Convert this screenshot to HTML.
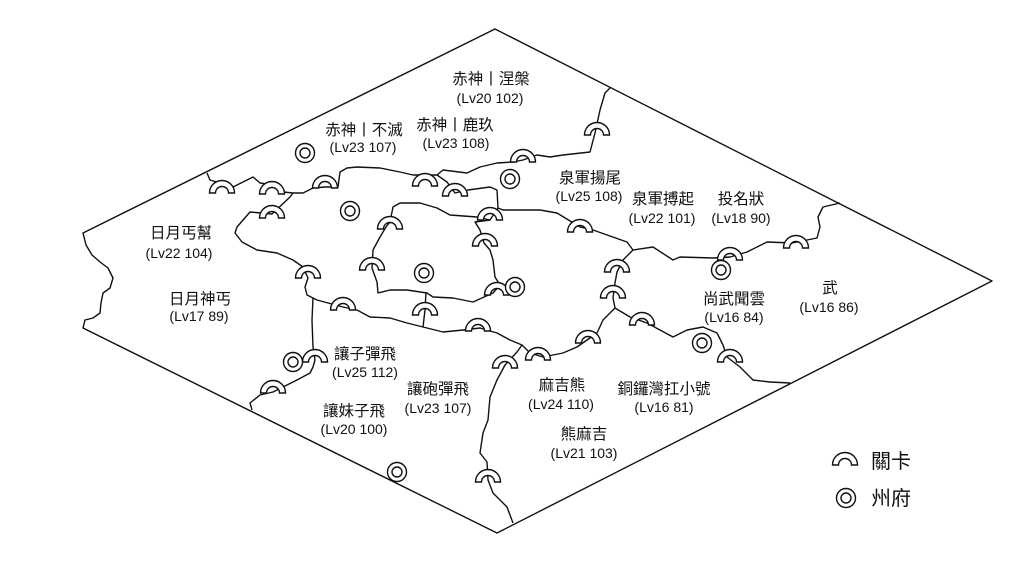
<!DOCTYPE html>
<html><head><meta charset="utf-8"><style>
html,body{margin:0;padding:0;background:#fff;}
svg{display:block;}
text{font-family:"Liberation Sans","Noto Sans CJK TC",sans-serif;fill:#111;}
.t{font-size:15.5px;text-anchor:middle;}
.l{font-size:14px;text-anchor:middle;}
</style></head><body>
<svg width="1033" height="577" viewBox="0 0 1033 577" xmlns="http://www.w3.org/2000/svg">
<defs>
<g id="gate"><path d="M-12.5,0 A12.5,12.5 0 0 1 12.5,0 L6.5,0 A6.5,6.5 0 0 0 -6.5,0 Z" fill="#fff" stroke="#111" stroke-width="1.4"/></g>
<g id="pref"><circle r="9.5" fill="#fff" stroke="#111" stroke-width="1.4"/><circle r="5" fill="none" stroke="#111" stroke-width="1.4"/></g>
</defs>
<g fill="none" stroke="#111" stroke-width="1.4" stroke-linejoin="round">
<path d="M83,233 L495,29 L992,281 L497,533 L83,328 L85,320 L93,318 L100,313 L101,303 L103,293 L110,288 L113,278 L108,268 L100,262 L92,255 L86,245 Z"/>
<path d="M207,173 L210,180 L220,183 L233,187 L247,180 L253,177 L260,183 L273,185 L283,192 L293,193 L303,193 L313,188 L325,187 L338,187 L340,172 L347,168 L357,167 L380,168 L400,172 L413,175 L437,175 L443,170 L467,173 L480,167 L497,163 L513,162 L523,160 L537,155 L550,157 L563,155 L590,152 L595,133 L600,110 L605,93 L610,88"/>
<path d="M437,175 L447,182 L455,193 L468,190 L490,187 L497,190 L498,208 L503,210 L540,210 L557,213 L580,227 L593,230 L627,242 L633,250"/>
<path d="M633,250 L653,247 L673,260 L680,257 L713,258 L730,257 L747,252 L767,242 L792,243 L817,238 L820,227 L818,217 L823,207 L840,203"/>
<path d="M633,250 L623,260 L617,272 L615,283 L613,298 L615,308 L603,320 L597,333 L587,340 L577,347 L563,353 L543,357 L530,353 L522,345 L510,340 L497,333 L480,328 L463,330 L443,332 L423,327 L407,323 L390,318 L370,317 L357,310 L343,307 L317,300 L307,295 L305,287 L308,278 L303,267 L293,260 L277,253 L257,250 L242,242 L235,233 L237,227 L250,212 L272,214 L290,197 L293,193"/>
<path d="M615,308 L630,317 L647,323 L660,330 L673,337 L687,330 L703,327 L717,333 L723,345 L727,357 L740,367 L753,380 L770,382 L790,383"/>
<path d="M490,220 L477,217 L450,215 L437,208 L420,203 L400,203 L393,207 L390,222 L386,227 L380,237 L373,250 L372,268 L377,282 L378,293 L390,290 L407,290 L427,293 L433,297 L453,298 L473,302 L493,293 L500,285 L495,277 L493,260 L490,250 L484,243 L480,230 L475,222 L490,220 L498,208"/>
<path d="M426,292 L425,310 L423,327"/>
<path d="M313,298 L312,320 L313,347 L315,360 L313,367 L310,373 L297,380 L283,387 L273,392 L260,395 L250,403 L252,410"/>
<path d="M522,345 L517,352 L505,365 L497,380 L490,397 L488,420 L483,433 L480,453 L487,462 L488,480 L493,493 L507,507 L513,523"/>
</g>
<g>
<use href="#gate" x="222" y="193"/><use href="#gate" x="272" y="194"/><use href="#gate" x="325" y="188"/><use href="#gate" x="272" y="218"/>
<use href="#gate" x="425" y="186"/><use href="#gate" x="455" y="196"/><use href="#gate" x="523" y="162"/><use href="#gate" x="597" y="135"/>
<use href="#gate" x="490" y="220"/><use href="#gate" x="485" y="246"/><use href="#gate" x="390" y="229"/><use href="#gate" x="372" y="270"/>
<use href="#gate" x="308" y="278"/><use href="#gate" x="343" y="310"/><use href="#gate" x="425" y="315"/><use href="#gate" x="478" y="331"/>
<use href="#gate" x="497" y="295"/><use href="#gate" x="580" y="232"/><use href="#gate" x="617" y="272"/><use href="#gate" x="613" y="298"/>
<use href="#gate" x="642" y="325"/><use href="#gate" x="588" y="343"/><use href="#gate" x="538" y="360"/><use href="#gate" x="505" y="368"/>
<use href="#gate" x="730" y="260"/><use href="#gate" x="796" y="248"/><use href="#gate" x="730" y="362"/>
<use href="#gate" x="315" y="362"/><use href="#gate" x="273" y="393"/><use href="#gate" x="488" y="482"/>
<use href="#gate" x="845" y="465"/>
</g>
<g>
<use href="#pref" x="305" y="153"/><use href="#pref" x="350" y="211"/><use href="#pref" x="510" y="179"/><use href="#pref" x="424" y="273"/>
<use href="#pref" x="515" y="287"/><use href="#pref" x="721" y="270"/><use href="#pref" x="702" y="343"/><use href="#pref" x="293" y="362"/>
<use href="#pref" x="397" y="472"/><use href="#pref" x="846" y="498"/>
</g>
<text class="t" x="491" y="84">赤神丨涅槃</text><text class="l" x="490" y="103">(Lv20 102)</text>
<text class="t" x="364" y="135">赤神丨不滅</text><text class="l" x="363" y="152">(Lv23 107)</text>
<text class="t" x="455" y="130">赤神丨鹿玖</text><text class="l" x="456" y="148">(Lv23 108)</text>
<text class="t" x="590" y="183">泉軍揚尾</text><text class="l" x="589" y="201">(Lv25 108)</text>
<text class="t" x="663" y="204">泉軍搏起</text><text class="l" x="662" y="223">(Lv22 101)</text>
<text class="t" x="741" y="204">投名狀</text><text class="l" x="741" y="223">(Lv18 90)</text>
<text class="t" x="181" y="238">日月丐幫</text><text class="l" x="179" y="258">(Lv22 104)</text>
<text class="t" x="200" y="304">日月神丐</text><text class="l" x="199" y="321">(Lv17 89)</text>
<text class="t" x="734" y="304">尚武聞雲</text><text class="l" x="734" y="322">(Lv16 84)</text>
<text class="t" x="830" y="293">武</text><text class="l" x="829" y="312">(Lv16 86)</text>
<text class="t" x="365" y="359">讓子彈飛</text><text class="l" x="365" y="377">(Lv25 112)</text>
<text class="t" x="438" y="394">讓砲彈飛</text><text class="l" x="438" y="413">(Lv23 107)</text>
<text class="t" x="354" y="416">讓妹子飛</text><text class="l" x="354" y="434">(Lv20 100)</text>
<text class="t" x="562" y="390">麻吉熊</text><text class="l" x="561" y="409">(Lv24 110)</text>
<text class="t" x="664" y="394">銅鑼灣扛小號</text><text class="l" x="664" y="412">(Lv16 81)</text>
<text class="t" x="584" y="439">熊麻吉</text><text class="l" x="584" y="458">(Lv21 103)</text>
<text x="871" y="468" style="font-size:20px">關卡</text>
<text x="871" y="505" style="font-size:20px">州府</text>
</svg>
</body></html>
